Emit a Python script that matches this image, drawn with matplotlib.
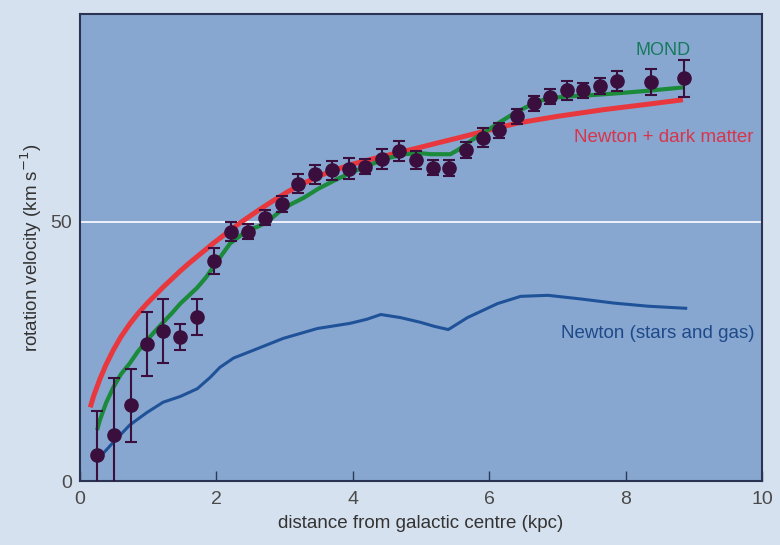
import matplotlib.pyplot as plt

# observed rotation curve (points with error bars)
obs_r = [0.25, 0.5, 0.75, 0.98, 1.22, 1.47, 1.72, 1.97, 2.22, 2.46, 2.71, 2.96,
         3.2, 3.45, 3.69, 3.94, 4.18, 4.43, 4.68, 4.92, 5.17, 5.41, 5.66, 5.91,
         6.15, 6.4, 6.65, 6.89, 7.14, 7.38, 7.63, 7.88, 8.37, 8.86]
obs_v = [5.0, 8.8, 14.6, 26.4, 28.9, 27.8, 31.6, 42.5, 48.1, 48.1, 50.8, 53.4,
         57.3, 59.1, 59.9, 60.2, 60.6, 62.1, 63.6, 61.9, 60.4, 60.3, 63.8, 66.2,
         67.6, 70.3, 72.8, 74.1, 75.3, 75.3, 76.2, 77.1, 77.0, 77.6]
obs_err = [8.5, 11.0, 7.0, 6.2, 6.2, 2.5, 3.5, 2.5, 1.8, 1.5, 1.5, 1.5,
           1.8, 1.8, 1.8, 2.0, 1.5, 2.0, 2.0, 1.8, 1.5, 1.5, 1.5, 1.8,
           1.5, 1.5, 1.5, 1.5, 1.8, 1.5, 1.5, 2.0, 2.5, 3.5]

# Newton + dark matter
dm_r = [0.15, 0.2, 0.29, 0.38, 0.49, 0.6, 0.73, 0.85, 0.98, 1.1, 1.22, 1.35,
        1.47, 1.6, 1.72, 1.85, 1.95, 2.1, 2.2, 2.33, 2.45, 2.64, 2.84, 3.05,
        3.28, 3.52, 3.77, 4.0, 4.26, 4.6, 4.95, 5.25, 5.53, 5.98, 6.41, 7.0,
        7.68, 8.3, 8.84]
dm_v = [14.2, 16.4, 19.6, 22.4, 25.3, 27.8, 30.3, 32.3, 34.2, 35.8, 37.4, 39.0,
        40.5, 42.0, 43.3, 44.7, 45.8, 47.3, 48.3, 49.6, 50.7, 52.4, 54.1, 55.8,
        57.4, 58.9, 60.1, 61.1, 62.0, 63.1, 64.2, 65.2, 66.1, 67.6, 69.0, 70.3,
        71.6, 72.6, 73.5]

# MOND
mond_r = [0.25, 0.29, 0.38, 0.49, 0.6, 0.73, 0.85, 0.98, 1.1, 1.22, 1.35, 1.47,
          1.6, 1.72, 1.85, 1.95, 2.08, 2.2, 2.33, 2.45, 2.6, 2.74, 2.94, 3.1,
          3.28, 3.5, 3.77, 4.0, 4.26, 4.5, 4.75, 5.0, 5.14, 5.43, 5.55, 5.7,
          5.87, 6.02, 6.17, 6.33, 6.5, 6.71, 6.9, 7.1, 7.5, 7.83, 8.3, 8.86]
mond_v = [9.8, 11.7, 15.0, 18.1, 20.6, 22.7, 25.0, 27.1, 28.9, 30.6, 32.4, 34.2,
          35.8, 37.3, 39.3, 41.2, 43.6, 45.8, 47.1, 48.3, 49.0, 49.9, 52.1, 53.4,
          54.6, 56.4, 58.2, 59.6, 61.0, 62.2, 63.0, 63.2, 63.0, 63.0, 63.9, 65.3,
          66.8, 68.0, 69.3, 70.6, 71.8, 73.2, 73.8, 74.1, 74.4, 74.7, 75.2, 75.9]

# Newton (stars and gas)
newt_r = [0.29, 0.49, 0.73, 0.98, 1.22, 1.47, 1.72, 1.91, 2.05, 2.25, 2.54,
          2.98, 3.48, 3.96, 4.21, 4.41, 4.7, 4.99, 5.2, 5.4, 5.68, 6.12, 6.46,
          6.86, 7.34, 7.83, 8.33, 8.88]
newt_v = [4.6, 7.5, 10.8, 13.2, 15.2, 16.3, 17.8, 20.0, 21.9, 23.7, 25.2,
          27.5, 29.4, 30.4, 31.2, 32.1, 31.5, 30.6, 29.8, 29.2, 31.5, 34.2, 35.6,
          35.8, 35.1, 34.3, 33.7, 33.3]

x_ticks = [0, 2, 4, 6, 8, 10]
y_ticks = [0, 50]

plt.rcParams['font.family'] = ['Liberation Sans', 'DejaVu Sans']

fig = plt.figure(figsize=(7.8, 5.45), dpi=100, facecolor='#d6e1ef')
ax = fig.add_axes([0.1026, 0.1174, 0.8744, 0.8566])
ax.set_facecolor('#87a7d0')

ax.axhline(50, color='#eef3fa', lw=1.4, zorder=1)

ax.plot(dm_r, dm_v, color='#e8383d', lw=3.6, solid_capstyle='butt',
        solid_joinstyle='round', zorder=2)
ax.plot(mond_r, mond_v, color='#1b8a3a', lw=3.0, solid_capstyle='butt',
        solid_joinstyle='round', zorder=3)
ax.plot(newt_r, newt_v, color='#1f5298', lw=2.2, solid_joinstyle='round', zorder=3)
ax.errorbar(obs_r, obs_v, yerr=obs_err, fmt='o', color='#3a0f3d', ms=9.5,
            elinewidth=1.5, capsize=4, capthick=1.5, zorder=4)

ax.text(8.55, 82.9, 'MOND', color='#167a5c', fontsize=13, ha='center', va='center')
ax.text(8.56, 66.2, 'Newton + dark matter', color='#d8344c', fontsize=13.5,
        ha='center', va='center')
ax.text(8.47, 28.5, 'Newton (stars and gas)', color='#1f4a8a', fontsize=13.5,
        ha='center', va='center')

ax.set_xlim(0, 10)
ax.set_ylim(0, 90)
ax.set_xticks(x_ticks)
ax.set_yticks(y_ticks)
ax.tick_params(axis='x', direction='in', length=7, width=1, color='#2a3a5a',
               labelsize=14, labelcolor='#4a4a4a', pad=7)
ax.tick_params(axis='y', length=0, labelsize=14, labelcolor='#4a4a4a', pad=6)
for s in ax.spines.values():
    s.set_color('#2a3452')
    s.set_linewidth(1.5)

ax.set_xlabel('distance from galactic centre (kpc)', fontsize=13.5,
              color='#333333', labelpad=5)
ax.set_ylabel('rotation velocity (km s$^{-1}$)', fontsize=13.5,
              color='#333333', labelpad=4)

fig.savefig('out.png', dpi=100, facecolor=fig.get_facecolor())
